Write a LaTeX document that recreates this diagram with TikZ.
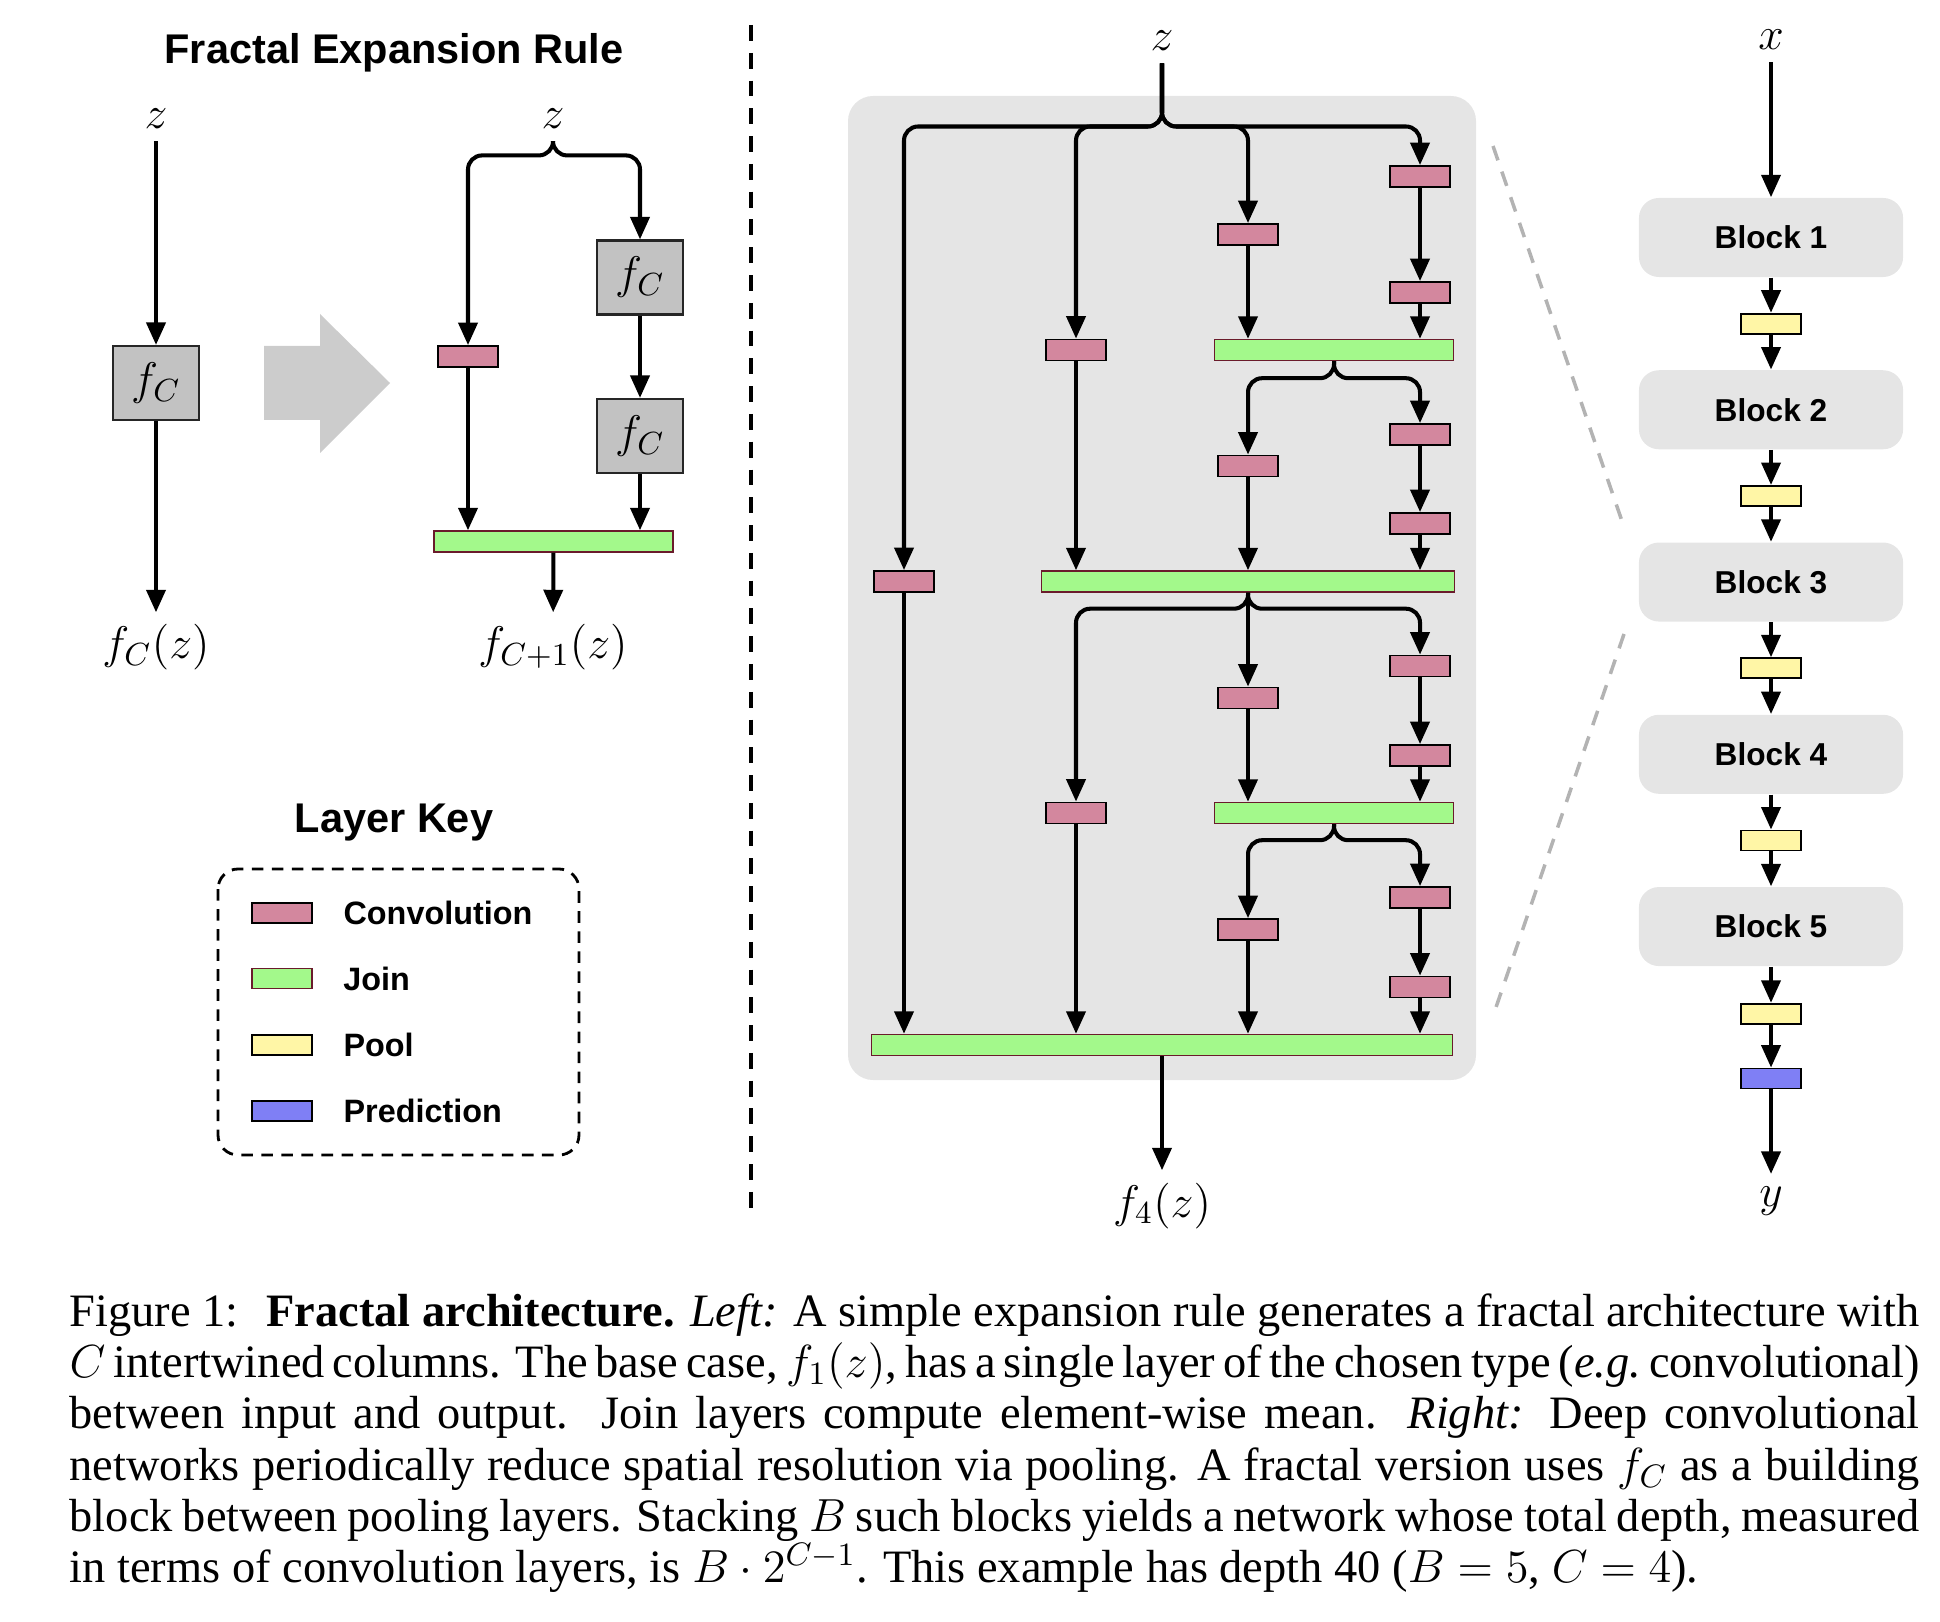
\RequirePackage{fix-cm}
\documentclass[tikz,border=0pt]{standalone}
\usepackage[no-math]{fontspec}
\setmainfont{Liberation Serif}
\newfontfamily\helv{Liberation Sans}
\usepackage{tikz}
\usetikzlibrary{arrows.meta, positioning}

\definecolor{convpink}{HTML}{D3879E}
\definecolor{joingreen}{HTML}{A3F98B}
\definecolor{joinedge}{HTML}{6A1B2B}
\definecolor{poolyellow}{HTML}{FFF6A6}
\definecolor{predblue}{HTML}{7F7FF5}
\definecolor{fcgray}{HTML}{C2C2C2}
\definecolor{panelgray}{HTML}{E5E5E5}
\definecolor{bigarrow}{HTML}{CCCCCC}
\definecolor{zoomgray}{HTML}{B3B3B3}

\tikzset{
    arr/.style={-{Triangle[length=6.4pt,width=5.4pt]}, line width=1.15pt},
    brc/.style={arr, rounded corners=4pt},
    layerbox/.style={inner sep=0pt, minimum width=0.6cm, minimum height=0.21cm, line width=0.5pt},
    conv/.style={layerbox, draw=black, fill=convpink},
    joinbar/.style={layerbox, draw=joinedge, line width=0.4pt, fill=joingreen},
    pool/.style={layerbox, draw=black, fill=poolyellow, minimum height=0.2cm},
    pred/.style={layerbox, draw=black, fill=predblue, minimum height=0.2cm},
    fbox/.style={draw=black!85, fill=fcgray, line width=0.6pt, minimum width=0.86cm, minimum height=0.74cm, inner sep=0pt, font=\fontsize{13}{15}\selectfont},
    mathlbl/.style={font=\fontsize{13}{15}\selectfont},
    title/.style={font=\helv\bfseries\fontsize{11.8}{14}\selectfont},
    keylbl/.style={inner sep=0pt, font=\helv\bfseries\fontsize{9.2}{11}\selectfont},
    block/.style={fill=panelgray, rounded corners=0.2cm, minimum width=2.64cm, minimum height=0.79cm, font=\helv\bfseries\fontsize{9}{11}\selectfont},
    divider/.style={line width=1pt, dash pattern=on 4.5pt off 3.4pt},
    keybox/.style={line width=0.8pt, dash pattern=on 3.3pt off 2.4pt, rounded corners=0.2cm},
    zoomline/.style={zoomgray, line width=1pt, dash pattern=on 4.3pt off 3.4pt},
    caption/.style={inner sep=0pt, text width=18.49cm, align=justify, font=\fontsize{13.2}{14.6}\selectfont}
}

\begin{document}
\begin{tikzpicture}[x=0.01cm, y=-0.01cm]
    \useasboundingbox (0,0) rectangle (1940,1622);

    % expansion rule
    \node[title, anchor=base] (tRule) at (394,64) {Fractal Expansion Rule};
    \node[mathlbl, anchor=base] (zL) at (156,129) {$z$};
    \node[fbox] (fL) at (156,383) {$f_C$};
    \node[mathlbl, anchor=base] (fLout) at (156,659) {$f_C(z)$};
    \draw[arr] (zL) -- (fL);
    \draw[arr] (fL) -- (fLout);

    \fill[bigarrow] (264,346) -- (320,346) -- (320,314) -- (390,383) -- (320,453) -- (320,420) -- (264,420) -- cycle;

    \node[mathlbl, anchor=base] (zR) at (553,129) {$z$};
    \node[conv] (cA) at (468,356.5) {};
    \node[fbox] (fR1) at (640,277.5) {$f_C$};
    \node[fbox] (fR2) at (640,436) {$f_C$};
    \node[joinbar, minimum width=2.39cm] (jA) at (553.5,541.5) {};
    \node[mathlbl, anchor=base] (fRout) at (553,659) {$f_{C+1}(z)$};
    \draw[brc] (zR.south) -- ++(0,14) -| (cA);
    \draw[brc] (zR.south) -- ++(0,14) -| (fR1);
    \draw[arr] (fR1) -- (fR2);
    \draw[arr] (cA) -- (cA |- jA.north);
    \draw[arr] (fR2) -- (fR2 |- jA.north);
    \draw[arr] (jA) -- (fRout);

    \draw[divider] (751,25) -- (751,1212);

    % layer key
    \node[title, anchor=base] (tKey) at (394,832) {Layer Key};
    \draw[keybox] (218,869) rectangle (579,1155);
    \node[conv, minimum height=0.2cm] (kConv) at (282,913) {};
    \node[joinbar, minimum height=0.2cm] (kJoin) at (282,978.5) {};
    \node[pool] (kPool) at (282,1045) {};
    \node[pred] (kPred) at (282,1111) {};
    \node[keylbl, right=0.3cm of kConv] (lConv) {Convolution};
    \node[keylbl, right=0.3cm of kJoin] (lJoin) {Join};
    \node[keylbl, right=0.3cm of kPool] (lPool) {Pool};
    \node[keylbl, right=0.3cm of kPred] (lPred) {Prediction};

    % fractal block f_4
    \fill[panelgray, rounded corners=0.25cm] (848,96) rectangle (1476,1080);
    \node[mathlbl, anchor=base] (zB) at (1162,51) {$z$};
    \coordinate (bar0) at (1162,126.5);

    \node[conv] (k41) at (1420,176.5) {};
    \node[conv] (k42) at (1420,292.5) {};
    \node[conv] (k43) at (1420,434.5) {};
    \node[conv] (k44) at (1420,523.5) {};
    \node[conv] (k45) at (1420,666) {};
    \node[conv] (k46) at (1420,755.5) {};
    \node[conv] (k47) at (1420,897.5) {};
    \node[conv] (k48) at (1420,987) {};
    \node[conv] (k31) at (1248,234.5) {};
    \node[conv] (k32) at (1248,466) {};
    \node[conv] (k33) at (1248,698) {};
    \node[conv] (k34) at (1248,929.5) {};
    \node[conv] (k21) at (1076,350) {};
    \node[conv] (k22) at (1076,813) {};
    \node[conv] (k11) at (904,581.5) {};
    \node[joinbar, minimum width=2.39cm] (j1) at (1334,350) {};
    \node[joinbar, minimum width=4.13cm] (j2) at (1248,581.5) {};
    \node[joinbar, minimum width=2.39cm] (j3) at (1334,813) {};
    \node[joinbar, minimum width=5.81cm] (j4) at (1162,1045) {};
    \node[mathlbl, anchor=base] (f4) at (1162,1217) {$f_4(z)$};

    \draw[brc] (zB.south) -- (bar0) -| (k11);
    \draw[brc] (zB.south) -- (bar0) -| (k21);
    \draw[brc] (zB.south) -- (bar0) -| (k31);
    \draw[brc] (zB.south) -- (bar0) -| (k41);
    \draw[arr] (k41) -- (k42);
    \draw[arr] (k42) -- (k42 |- j1.north);
    \draw[arr] (k31) -- (k31 |- j1.north);

    \draw[brc] (j1.south) -- ++(0,17) -| (k32);
    \draw[brc] (j1.south) -- ++(0,17) -| (k43);
    \draw[arr] (k43) -- (k44);
    \draw[arr] (k44) -- (k44 |- j2.north);
    \draw[arr] (k32) -- (k32 |- j2.north);
    \draw[arr] (k21) -- (k21 |- j2.north);

    \draw[arr] (j2) -- (k33);
    \draw[brc] (j2.south) -- ++(0,16) -| (k22);
    \draw[brc] (j2.south) -- ++(0,16) -| (k45);
    \draw[arr] (k45) -- (k46);
    \draw[arr] (k46) -- (k46 |- j3.north);
    \draw[arr] (k33) -- (k33 |- j3.north);

    \draw[brc] (j3.south) -- ++(0,16) -| (k34);
    \draw[brc] (j3.south) -- ++(0,16) -| (k47);
    \draw[arr] (k47) -- (k48);
    \draw[arr] (k48) -- (k48 |- j4.north);
    \draw[arr] (k34) -- (k34 |- j4.north);
    \draw[arr] (k22) -- (k22 |- j4.north);
    \draw[arr] (k11) -- (k11 |- j4.north);
    \draw[arr] (j4) -- (f4);

    % zoom lines
    \draw[zoomline] (1493,146) -- (1624,527);
    \draw[zoomline] (1624,634) -- (1493,1016);

    % network of blocks
    \node[mathlbl, anchor=base] (xin) at (1771,50) {$x$};
    \node[block] (b1) at (1771,237.5) {Block 1};
    \node[pool, below=0.35cm of b1] (p1) {};
    \node[block, below=0.35cm of p1] (b2) {Block 2};
    \node[pool, below=0.35cm of b2] (p2) {};
    \node[block, below=0.35cm of p2] (b3) {Block 3};
    \node[pool, below=0.35cm of b3] (p3) {};
    \node[block, below=0.35cm of p3] (b4) {Block 4};
    \node[pool, below=0.35cm of b4] (p4) {};
    \node[block, below=0.35cm of p4] (b5) {Block 5};
    \node[pool, below=0.36cm of b5] (p5) {};
    \node[pred, below=0.43cm of p5] (pr) {};
    \node[mathlbl, anchor=base] (yout) at (1771,1206) {$y$};
    \draw[arr] (xin) -- (b1);
    \draw[arr] (b1) -- (p1);
    \draw[arr] (p1) -- (b2);
    \draw[arr] (b2) -- (p2);
    \draw[arr] (p2) -- (b3);
    \draw[arr] (b3) -- (p3);
    \draw[arr] (p3) -- (b4);
    \draw[arr] (b4) -- (p4);
    \draw[arr] (p4) -- (b5);
    \draw[arr] (b5) -- (p5);
    \draw[arr] (p5) -- (pr);
    \draw[arr] (pr) -- (yout);

    % caption
    \node[caption, anchor=base west] (cap) at (69,1326) {Figure 1:\hspace{0.6em}\textbf{Fractal architecture.} \emph{Left:} A simple expansion rule generates a fractal architecture with\linebreak
    $C$ intertwined columns. The base case, $f_1(z)$, has a single layer of the chosen type (\emph{e.g.}\ convolutional)\linebreak
    between input and output.\ \ Join layers compute element-wise mean. \emph{Right:} Deep convolutional\linebreak
    networks periodically reduce spatial resolution via pooling. A fractal version uses $f_C$ as a building\linebreak
    block between pooling layers. Stacking $B$ such blocks yields a network whose total depth, measured\linebreak
    in terms of convolution layers, is $B\cdot 2^{C-1}$. This example has depth 40 ($B=5$, $C=4$).};
\end{tikzpicture}
\end{document}
